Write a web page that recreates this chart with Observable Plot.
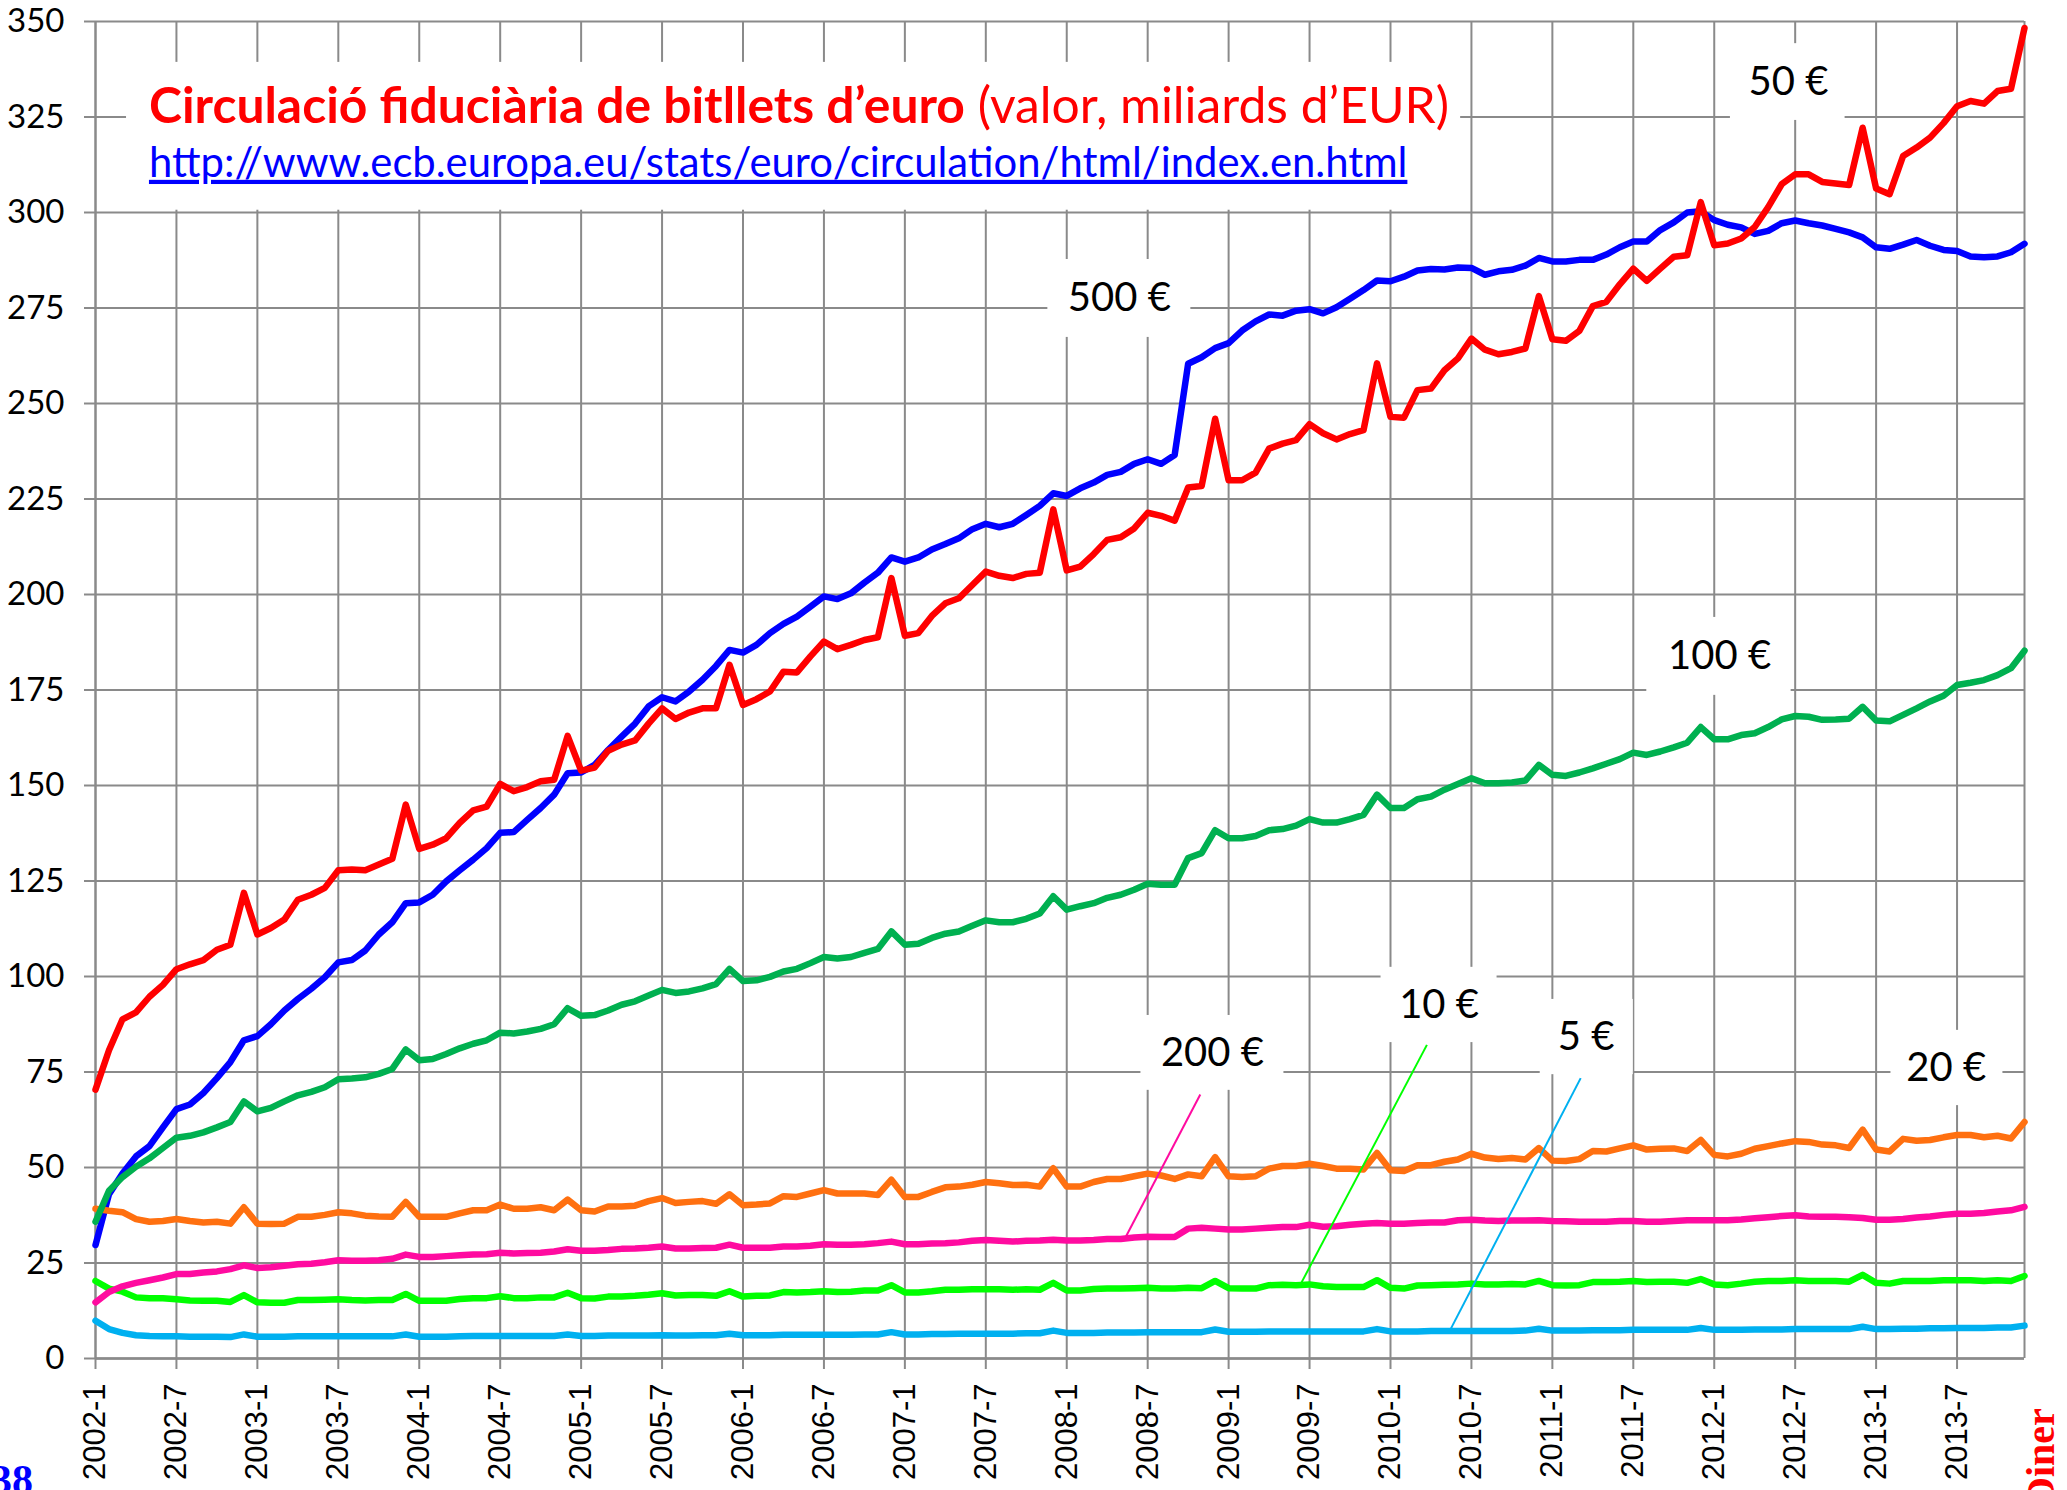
<!DOCTYPE html>
<html>
<head>
<meta charset="utf-8">
<script src="https://cdn.jsdelivr.net/npm/d3@7"></script>
<script src="https://cdn.jsdelivr.net/npm/@observablehq/plot@0.6"></script>
<style>
html, body { margin: 0; padding: 0; background: #fff; }
#chart { position: relative; width: 2067px; height: 1490px; overflow: hidden; }
</style>
</head>
<body>
<div id="chart"></div>
<script>
// ---------- DATA (billions of EUR, monthly 2002-1 .. 2013-12) ----------
const startYear = 2002;
const tickMonths = [0, 6, 12, 18, 24, 30, 36, 42, 48, 54, 60, 66, 72, 78, 84, 90, 96, 102, 108, 114, 120, 126, 132, 138];
const yTicks = [0, 25, 50, 75, 100, 125, 150, 175, 200, 225, 250, 275, 300, 325, 350];

const notes500 = [
  29.7, 43.0, 48.4, 52.9, 55.6, 60.5, 65.3, 66.5, 69.5, 73.4, 77.6, 83.3,
  84.4, 87.5, 91.1, 94.1, 96.8, 99.8, 103.7, 104.3, 106.8, 111.0, 114.2, 119.2,
  119.4, 121.4, 124.9, 127.8, 130.6, 133.6, 137.6, 137.8, 141.0, 144.1, 147.6, 153.2,
  153.4, 155.4, 159.3, 162.8, 166.2, 170.7, 173.1, 172.0, 174.6, 177.7, 181.3, 185.5,
  184.8, 186.8, 189.9, 192.3, 194.2, 196.8, 199.5, 198.8, 200.3, 203.1, 205.7, 209.7,
  208.6, 209.7, 211.8, 213.2, 214.7, 217.1, 218.5, 217.6, 218.5, 220.8, 223.2, 226.5,
  225.8, 227.8, 229.3, 231.3, 232.1, 234.2, 235.4, 234.2, 236.5, 260.4, 262.1, 264.5,
  265.8, 269.1, 271.5, 273.3, 273.0, 274.3, 274.7, 273.6, 275.2, 277.4, 279.7, 282.2,
  282.0, 283.2, 284.8, 285.2, 285.1, 285.6, 285.5, 283.7, 284.6, 285.0, 286.1, 288.1,
  287.2, 287.2, 287.6, 287.6, 289.0, 290.9, 292.4, 292.4, 295.4, 297.4, 300.0, 300.3,
  298.0, 296.8, 296.1, 294.4, 295.2, 297.2, 297.9, 297.2, 296.6, 295.7, 294.8, 293.5,
  290.9, 290.5, 291.6, 292.8, 291.3, 290.2, 289.9, 288.5, 288.3, 288.5, 289.6, 291.8
];
const notes50 = [
  70.4, 80.7, 88.8, 90.6, 94.7, 97.8, 101.9, 103.2, 104.3, 107.0, 108.3, 121.9,
  111.0, 112.7, 114.9, 120.1, 121.4, 123.2, 127.8, 128.0, 127.8, 129.3, 130.8, 145.0,
  133.4, 134.5, 136.2, 140.2, 143.5, 144.5, 150.4, 148.5, 149.6, 151.1, 151.5, 163.0,
  153.9, 154.7, 159.1, 160.7, 161.8, 166.2, 170.2, 167.4, 169.1, 170.2, 170.2, 181.6,
  171.1, 172.6, 174.6, 179.8, 179.6, 183.8, 187.7, 185.7, 186.8, 188.1, 188.8, 204.3,
  189.2, 189.9, 194.4, 197.7, 199.0, 202.5, 206.0, 204.9, 204.3, 205.4, 205.7, 222.3,
  206.3, 207.3, 210.6, 214.3, 215.0, 217.3, 221.4, 220.6, 219.3, 228.0, 228.4, 246.0,
  229.9, 229.9, 231.9, 238.2, 239.5, 240.4, 244.6, 242.2, 240.6, 242.0, 243.0, 260.5,
  246.5, 246.3, 253.5, 253.9, 258.7, 261.8, 267.0, 264.1, 262.9, 263.5, 264.4, 278.1,
  266.8, 266.4, 269.0, 275.5, 276.6, 281.2, 285.3, 282.1, 285.3, 288.4, 288.8, 302.7,
  291.4, 291.9, 293.2, 296.2, 301.4, 307.4, 310.0, 310.0, 308.0, 307.6, 307.2, 322.2,
  306.3, 304.8, 314.8, 317.0, 319.6, 323.4, 327.8, 329.2, 328.5, 331.8, 332.4, 348.3
];
const notes100 = [
  35.8, 43.9, 47.5, 50.2, 52.4, 55.1, 57.8, 58.3, 59.2, 60.5, 61.9, 67.3,
  64.7, 65.6, 67.3, 68.9, 69.8, 71.0, 73.1, 73.3, 73.6, 74.5, 75.8, 80.9,
  78.1, 78.4, 79.7, 81.2, 82.4, 83.3, 85.3, 85.1, 85.6, 86.3, 87.5, 91.7,
  89.7, 89.9, 91.1, 92.6, 93.5, 95.0, 96.5, 95.7, 96.1, 96.9, 98.0, 102.0,
  98.8, 99.0, 99.9, 101.3, 102.0, 103.5, 105.1, 104.7, 105.1, 106.2, 107.2, 111.8,
  108.3, 108.6, 110.1, 111.2, 111.8, 113.3, 114.7, 114.2, 114.2, 115.1, 116.5, 121.0,
  117.5, 118.4, 119.2, 120.6, 121.4, 122.7, 124.3, 124.0, 124.0, 131.0, 132.3, 138.3,
  136.2, 136.2, 136.8, 138.3, 138.6, 139.5, 141.2, 140.3, 140.3, 141.2, 142.3, 147.6,
  144.1, 144.1, 146.4, 147.1, 148.9, 150.4, 151.9, 150.6, 150.6, 150.8, 151.3, 155.4,
  152.8, 152.5, 153.4, 154.5, 155.7, 156.9, 158.6, 158.0, 158.9, 160.0, 161.2, 165.3,
  162.1, 162.1, 163.2, 163.7, 165.3, 167.3, 168.2, 168.0, 167.2, 167.3, 167.5, 170.6,
  167.0, 166.8, 168.5, 170.2, 172.0, 173.5, 176.3, 176.9, 177.6, 178.9, 180.7, 185.3
];
const notes20 = [
  39.2, 38.7, 38.3, 36.5, 35.8, 36.0, 36.5, 36.0, 35.6, 35.8, 35.3, 39.6,
  35.3, 35.2, 35.3, 37.1, 37.1, 37.6, 38.3, 38.0, 37.4, 37.2, 37.1, 41.0,
  37.1, 37.1, 37.1, 38.0, 38.8, 38.8, 40.3, 39.2, 39.2, 39.6, 38.8, 41.6,
  38.8, 38.5, 39.8, 39.8, 40.0, 41.2, 42.0, 40.7, 41.0, 41.2, 40.5, 43.0,
  40.1, 40.3, 40.6, 42.5, 42.3, 43.2, 44.1, 43.2, 43.2, 43.2, 42.8, 46.8,
  42.3, 42.3, 43.6, 44.8, 45.0, 45.5, 46.2, 45.9, 45.4, 45.5, 45.0, 49.8,
  45.0, 45.0, 46.2, 47.0, 47.0, 47.7, 48.4, 47.9, 47.0, 48.2, 47.7, 52.7,
  47.7, 47.5, 47.7, 49.7, 50.4, 50.4, 51.0, 50.4, 49.7, 49.7, 49.5, 53.8,
  49.3, 49.1, 50.6, 50.6, 51.5, 52.1, 53.6, 52.6, 52.2, 52.5, 52.1, 55.1,
  51.8, 51.7, 52.2, 54.3, 54.2, 55.0, 55.8, 54.7, 54.9, 55.0, 54.3, 57.2,
  53.3, 52.9, 53.6, 54.9, 55.6, 56.3, 56.9, 56.7, 56.0, 55.8, 55.1, 59.9,
  54.7, 54.2, 57.5, 57.0, 57.2, 57.9, 58.5, 58.5, 57.9, 58.3, 57.6, 61.9
];
const notes200 = [
  14.7, 17.4, 18.9, 19.8, 20.5, 21.2, 22.1, 22.1, 22.5, 22.8, 23.4, 24.4,
  23.7, 23.9, 24.3, 24.7, 24.8, 25.2, 25.7, 25.6, 25.6, 25.7, 26.1, 27.2,
  26.6, 26.6, 26.8, 27.0, 27.2, 27.3, 27.7, 27.5, 27.6, 27.7, 28.0, 28.6,
  28.2, 28.2, 28.4, 28.7, 28.8, 29.0, 29.3, 28.8, 28.8, 28.9, 29.0, 29.8,
  29.0, 29.0, 29.0, 29.3, 29.3, 29.5, 29.9, 29.8, 29.8, 29.9, 30.2, 30.6,
  29.9, 29.9, 30.1, 30.2, 30.4, 30.8, 31.0, 30.8, 30.6, 30.8, 30.9, 31.1,
  30.9, 30.9, 31.0, 31.3, 31.3, 31.7, 31.9, 31.8, 31.8, 34.0, 34.2, 34.0,
  33.8, 33.8, 34.0, 34.2, 34.4, 34.4, 35.0, 34.5, 34.6, 35.0, 35.3, 35.5,
  35.3, 35.3, 35.5, 35.6, 35.6, 36.2, 36.3, 36.1, 36.0, 36.1, 36.1, 36.2,
  36.0, 35.9, 35.8, 35.8, 35.8, 36.0, 36.0, 35.8, 35.8, 36.0, 36.2, 36.2,
  36.2, 36.2, 36.4, 36.7, 37.0, 37.3, 37.5, 37.2, 37.1, 37.1, 37.0, 36.8,
  36.3, 36.3, 36.5, 36.9, 37.2, 37.6, 37.9, 37.9, 38.1, 38.5, 38.8, 39.7
];
const notes10 = [
  20.3, 18.3, 17.5, 16.0, 15.8, 15.8, 15.5, 15.2, 15.1, 15.1, 14.8, 16.6,
  14.7, 14.6, 14.6, 15.3, 15.3, 15.4, 15.5, 15.3, 15.2, 15.3, 15.3, 16.9,
  15.1, 15.1, 15.1, 15.6, 15.8, 15.8, 16.3, 15.8, 15.8, 16.0, 16.0, 17.2,
  15.8, 15.7, 16.2, 16.2, 16.4, 16.7, 17.1, 16.5, 16.6, 16.6, 16.4, 17.6,
  16.2, 16.4, 16.5, 17.4, 17.3, 17.4, 17.6, 17.4, 17.5, 17.8, 17.8, 19.2,
  17.3, 17.3, 17.6, 18.0, 18.0, 18.1, 18.1, 18.1, 18.0, 18.1, 18.0, 19.8,
  17.8, 17.8, 18.2, 18.3, 18.3, 18.4, 18.5, 18.3, 18.3, 18.5, 18.4, 20.3,
  18.4, 18.3, 18.3, 19.2, 19.3, 19.2, 19.4, 18.9, 18.7, 18.7, 18.7, 20.5,
  18.5, 18.3, 19.1, 19.2, 19.3, 19.4, 19.6, 19.4, 19.4, 19.5, 19.4, 20.3,
  19.2, 19.1, 19.2, 20.0, 20.0, 20.1, 20.3, 20.0, 20.1, 20.1, 19.8, 20.8,
  19.4, 19.2, 19.6, 20.1, 20.3, 20.3, 20.5, 20.3, 20.3, 20.3, 20.1, 21.9,
  19.8, 19.6, 20.3, 20.3, 20.3, 20.5, 20.5, 20.5, 20.3, 20.5, 20.3, 21.6
];
const notes5 = [
  9.9, 7.7, 6.7, 6.1, 5.9, 5.8, 5.8, 5.7, 5.7, 5.7, 5.6, 6.3,
  5.7, 5.7, 5.7, 5.8, 5.8, 5.8, 5.8, 5.8, 5.8, 5.8, 5.8, 6.3,
  5.7, 5.7, 5.7, 5.8, 5.9, 5.9, 5.9, 5.9, 5.9, 5.9, 5.9, 6.3,
  5.9, 5.9, 6.0, 6.0, 6.0, 6.0, 6.1, 6.0, 6.0, 6.1, 6.1, 6.5,
  6.1, 6.1, 6.1, 6.2, 6.2, 6.2, 6.2, 6.2, 6.2, 6.3, 6.3, 6.9,
  6.3, 6.3, 6.4, 6.4, 6.5, 6.5, 6.5, 6.5, 6.5, 6.6, 6.6, 7.3,
  6.7, 6.7, 6.7, 6.8, 6.8, 6.8, 6.9, 6.9, 6.9, 6.9, 6.9, 7.6,
  7.0, 7.0, 7.0, 7.1, 7.1, 7.1, 7.1, 7.1, 7.1, 7.1, 7.1, 7.7,
  7.1, 7.1, 7.1, 7.2, 7.2, 7.2, 7.2, 7.2, 7.2, 7.2, 7.3, 7.8,
  7.3, 7.3, 7.3, 7.4, 7.4, 7.4, 7.5, 7.5, 7.5, 7.5, 7.5, 8.0,
  7.5, 7.5, 7.5, 7.6, 7.6, 7.6, 7.7, 7.7, 7.7, 7.7, 7.7, 8.3,
  7.7, 7.7, 7.8, 7.8, 7.9, 7.9, 8.0, 8.0, 8.0, 8.1, 8.1, 8.6
];

// drawing order (first = bottom)
const seriesNames = ["500 €", "5 €", "10 €", "200 €", "20 €", "100 €", "50 €"];
const seriesValues = [notes500, notes5, notes10, notes200, notes20, notes100, notes50];
const seriesColors = ["#0000FF", "#00B0F0", "#00FF00", "#FF0BA0", "#FF7010", "#00B050", "#FF0000"];

// series labels (position in month index / value units)
const labelText  = ["50 €", "500 €", "100 €", "200 €", "10 €", "5 €", "20 €"];
const labelMonth = [125.5, 75.9, 120.4, 82.8, 99.6, 110.5, 137.2];
const labelValue = [334.0, 277.5, 183.8, 79.8, 92.5, 84.0, 76.0];

// white label boxes (title first)
const boxMonth1 = [2.3, 121.2, 70.6, 115.0, 77.5, 95.3, 107.1, 133.1];
const boxMonth2 = [101.2, 129.7, 81.2, 125.7, 88.1, 103.9, 114.0, 141.4];
const boxValue1 = [300.6, 324.1, 267.3, 173.6, 70.2, 82.7, 74.3, 66.2];
const boxValue2 = [339.3, 344.2, 287.7, 194.0, 89.8, 102.4, 94.0, 85.9];

// leader lines
const leaderName   = ["200 €", "10 €", "5 €"];
const leaderMonth1 = [81.9, 98.7, 110.1];
const leaderValue1 = [69.1, 82.1, 73.4];
const leaderMonth2 = [76.4, 89.3, 100.4];
const leaderValue2 = [32.0, 19.2, 7.3];

const titleBold = "Circulació fiduciària de bitllets d’euro";
const titleRest = " (valor, miliards d’EUR)";
const urlText = "http://www.ecb.europa.eu/stats/euro/circulation/html/index.en.html";
const titleMonth = 4.0, titleValue = 323.3, titleEndMonth = 100.4;
const urlValue = 309.2, urlEndMonth = 97.3;

// ---------- BUILD ----------
const rows = seriesNames.flatMap((name, k) => seriesValues[k].map((v, i) => ({name, i, v})));
const labels = labelText.map((t, k) => ({t, m: labelMonth[k], v: labelValue[k]}));
const boxes = boxMonth1.map((m1, k) => ({m1, m2: boxMonth2[k], v1: boxValue1[k], v2: boxValue2[k]}));
const leaders = leaderName.map((name, k) => ({name, m1: leaderMonth1[k], v1: leaderValue1[k], m2: leaderMonth2[k], v2: leaderValue2[k]}));
const monthLabel = i => `${startYear + Math.floor(i / 12)}-${(i % 12) + 1}`;
const gridColor = "#8a8a8a";

const plot = Plot.plot({
  width: 2067,
  height: 1490,
  marginLeft: 95,
  marginRight: 43,
  marginTop: 21,
  marginBottom: 132,
  style: {background: "white", fontFamily: "Lato", color: "black", overflow: "hidden"},
  x: {type: "linear", domain: [0, 143]},
  y: {domain: [0, 350]},
  color: {domain: seriesNames, range: seriesColors},
  marks: [
    Plot.gridX(tickMonths, {stroke: gridColor, strokeOpacity: 1, strokeWidth: 2}),
    Plot.gridY(yTicks, {stroke: gridColor, strokeOpacity: 1, strokeWidth: 2}),
    Plot.ruleX([0, 143], {stroke: gridColor, strokeWidth: 2}),
    Plot.ruleY([0], {stroke: gridColor, strokeWidth: 2.5}),
    Plot.rect(boxes, {x1: "m1", x2: "m2", y1: "v1", y2: "v2", fill: "white"}),
    Plot.line(rows, {x: "i", y: "v", z: "name", stroke: "name", strokeWidth: 6.5, strokeLinejoin: "round", strokeLinecap: "round"}),
    Plot.link(leaders, {x1: "m1", y1: "v1", x2: "m2", y2: "v2", stroke: "name", strokeWidth: 2}),
    Plot.text(labels, {x: "m", y: "v", text: "t", fontSize: 40, fontFamily: "Lato", fill: "black", textAnchor: "middle", lineAnchor: "middle"}),
    Plot.axisX(tickMonths, {
      tickFormat: monthLabel, tickRotate: -90, tickSize: 11, tickPadding: 14,
      fontSize: 31, fontFamily: "Liberation Sans", stroke: gridColor, strokeWidth: 2, fill: "black", label: null
    }),
    Plot.axisY(yTicks, {
      tickSize: 11, tickPadding: 20, fontSize: 33, fontFamily: "Lato",
      stroke: gridColor, strokeWidth: 2, fill: "black", label: null
    })
  ]
});

document.getElementById("chart").appendChild(plot);

const sx = plot.scale("x"), sy = plot.scale("y");
const svg = d3.select(plot);

// title
const title = svg.append("text")
  .attr("x", sx.apply(titleMonth)).attr("y", sy.apply(titleValue))
  .attr("text-anchor", "start")
  .attr("fill", "#FF0000").attr("font-family", "Lato").attr("font-size", 46);
title.append("tspan").attr("font-weight", "bold").text(titleBold);
title.append("tspan").attr("font-weight", "normal").text(titleRest);
{
  const target = sx.apply(titleEndMonth) - sx.apply(titleMonth);
  const w = title.node().getBBox().width;
  if (w > 0) title.attr("font-size", 46 * target / w);
}
const url = svg.append("text")
  .attr("x", sx.apply(titleMonth)).attr("y", sy.apply(urlValue))
  .attr("text-anchor", "start")
  .attr("fill", "#0000FF").attr("font-family", "Lato").attr("font-size", 38)
  .style("text-decoration", "underline")
  .text(urlText);
{
  const target = sx.apply(urlEndMonth) - sx.apply(titleMonth);
  const w = url.node().getBBox().width;
  if (w > 0) url.attr("font-size", 38 * target / w);
}

// page fragments at the bottom corners
svg.append("text").attr("x", 33).attr("y", 1494).attr("text-anchor", "end")
  .attr("font-family", "Liberation Serif").attr("font-weight", "bold").attr("font-size", 42)
  .attr("fill", "#0000FF").text("38");
svg.append("text").attr("transform", "translate(2054,1506) rotate(-90)")
  .attr("text-anchor", "start")
  .attr("font-family", "Liberation Serif").attr("font-weight", "bold").attr("font-size", 40)
  .attr("fill", "#FF0000").text("Diner");
</script>
</body>
</html>
